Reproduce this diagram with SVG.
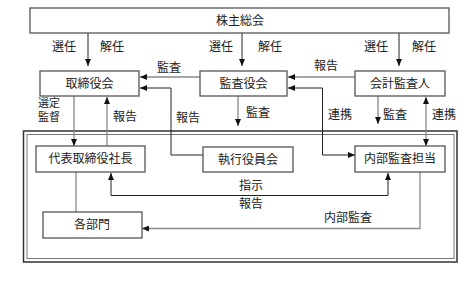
<svg xmlns="http://www.w3.org/2000/svg" width="476" height="282" viewBox="0 0 476 282">
<defs>
<marker id="ah" markerWidth="7" markerHeight="6" refX="7" refY="3" orient="auto" markerUnits="userSpaceOnUse">
<path d="M0,0 L7,3 L0,6 Z" fill="#111"/>
</marker>
<marker id="as" markerWidth="7" markerHeight="6" refX="0" refY="3" orient="auto" markerUnits="userSpaceOnUse">
<path d="M7,0 L0,3 L7,6 Z" fill="#111"/>
</marker>
<style>
.box{fill:#fff;stroke:#555;stroke-width:1.3}
.t{font-family:"Liberation Serif","Noto Sans CJK JP",serif;font-size:12px;fill:#222;text-anchor:middle}
.s{font-size:11px}
.c{fill:none;stroke:#222;stroke-width:1}
.g{fill:none;stroke:#888;stroke-width:1.3}
</style>
</defs>
<rect width="476" height="282" fill="#fff"/>
<g id="frame">
<rect x="23.5" y="131" width="433.5" height="131" fill="none" stroke="#333" stroke-width="1.5"/>
<rect x="27" y="134.5" width="427" height="124" fill="none" stroke="#777" stroke-width="1"/>
</g>
<g id="connectors">
<line class="c" x1="88" y1="33" x2="88" y2="66" marker-end="url(#ah)"/>
<line class="c" x1="242" y1="33" x2="242" y2="66" marker-end="url(#ah)"/>
<line class="c" x1="399" y1="33" x2="399" y2="66" marker-end="url(#ah)"/>
<line class="g" x1="200" y1="77" x2="140" y2="77" marker-end="url(#ah)"/>
<polyline class="c" points="203,155 171,155 171,88 140,88" marker-end="url(#ah)"/>
<line class="g" x1="355" y1="77" x2="288" y2="77" marker-end="url(#ah)"/>
<polyline class="c" points="288,88 322.5,88 322.5,155 355,155" marker-start="url(#as)" marker-end="url(#ah)"/>
<line class="g" x1="238" y1="96" x2="238" y2="126" marker-end="url(#ah)"/>
<line class="g" x1="378" y1="96" x2="378" y2="124" marker-end="url(#ah)"/>
<line class="g" x1="426" y1="97" x2="426" y2="146" marker-start="url(#as)" marker-end="url(#ah)"/>
<line class="g" x1="74" y1="96" x2="74" y2="146" marker-end="url(#ah)"/>
<line class="g" x1="107" y1="146" x2="107" y2="97" marker-end="url(#ah)"/>
<polyline class="c" points="111,173 111,195.5 388,195.5 388,173" marker-start="url(#as)" marker-end="url(#ah)"/>
<line class="g" x1="76" y1="172" x2="76" y2="212"/>
<polyline class="g" points="420,172 420,228.5 142,228.5" marker-end="url(#ah)"/>
</g>
<g id="n-shareholders">
<rect class="box" x="30" y="8" width="419" height="25"/>
<text class="t" x="240" y="24.5">株主総会</text>
</g>
<g id="n-board">
<rect class="box" x="40" y="71" width="99" height="25"/>
<text class="t" x="89.5" y="88">取締役会</text>
</g>
<g id="n-auditboard">
<rect class="box" x="200" y="71" width="87" height="25"/>
<text class="t" x="243.5" y="88">監査役会</text>
</g>
<g id="n-accountant">
<rect class="box" x="355" y="71" width="90" height="25"/>
<text class="t" x="400" y="88">会計監査人</text>
</g>
<g id="n-president">
<rect class="box" x="36" y="146" width="109" height="26"/>
<text class="t" x="90.5" y="163">代表取締役社長</text>
</g>
<g id="n-exec">
<rect class="box" x="203" y="147" width="90" height="25"/>
<text class="t" x="248" y="163.5">執行役員会</text>
</g>
<g id="n-internal">
<rect class="box" x="355" y="146" width="90" height="26"/>
<text class="t" x="400" y="163">内部監査担当</text>
</g>
<g id="n-depts">
<rect class="box" x="43" y="212" width="99" height="26"/>
<text class="t" x="92" y="229">各部門</text>
</g>
<g id="labels">
<text class="t" x="64" y="51">選任</text>
<text class="t" x="112" y="51">解任</text>
<text class="t" x="221" y="51">選任</text>
<text class="t" x="270" y="51">解任</text>
<text class="t" x="376" y="51">選任</text>
<text class="t" x="424" y="51">解任</text>
<text class="t" x="169" y="72">監査</text>
<text class="t" x="326" y="70">報告</text>
<text class="t s" x="49" y="107">選定</text>
<text class="t s" x="49" y="121">監督</text>
<text class="t" x="125" y="121">報告</text>
<text class="t" x="188" y="122">報告</text>
<text class="t" x="258" y="117">監査</text>
<text class="t" x="340" y="119">連携</text>
<text class="t" x="395" y="119">監査</text>
<text class="t" x="444" y="119">連携</text>
<text class="t" x="251" y="190">指示</text>
<text class="t" x="251" y="208">報告</text>
<text class="t" x="348" y="222">内部監査</text>
</g>
</svg>
